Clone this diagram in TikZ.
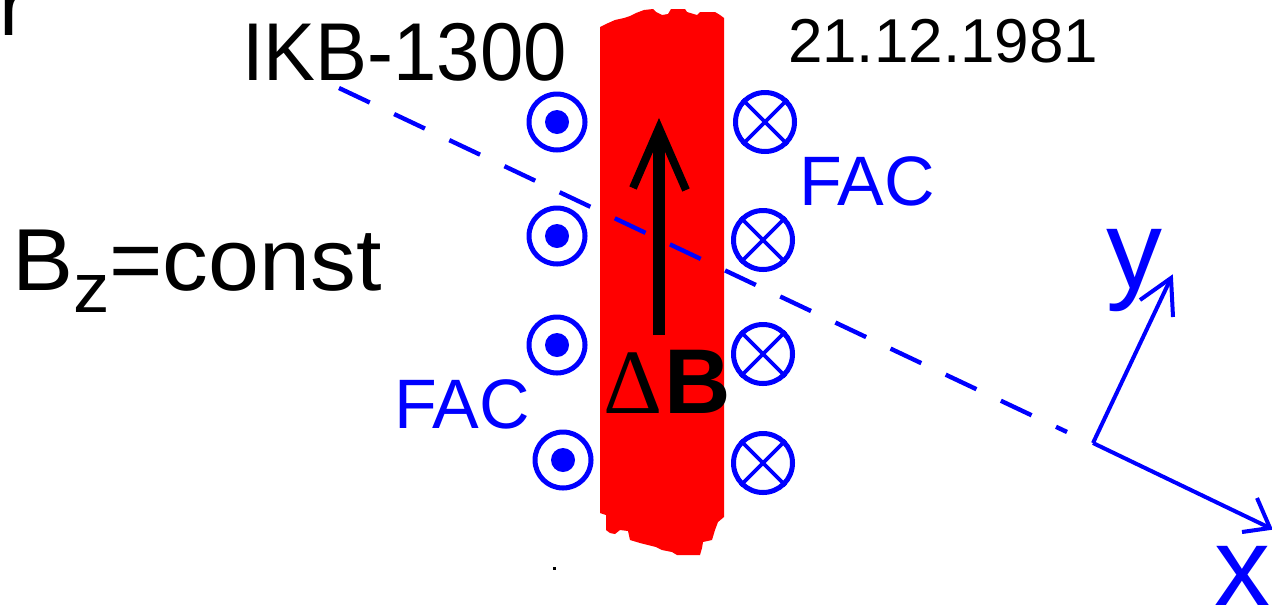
\documentclass[tikz,border=0pt]{standalone}
\usepackage{fontspec}
\setmainfont{Liberation Sans}
\newfontfamily\serifD{Liberation Serif}
\usetikzlibrary{calc}
\definecolor{pureblue}{RGB}{0,0,255}
\definecolor{purered}{RGB}{255,0,0}
\tikzset{
  lbl/.style={inner sep=0pt, outer sep=0pt, anchor=base west},
  bluetxt/.style={lbl, text=pureblue},
  dotcirc/.style={draw=pureblue, line width=2.5pt, circle, minimum size=28pt, inner sep=0pt},
  crosscirc/.style={draw=pureblue, line width=2.5pt, circle, minimum size=29.5pt, inner sep=0pt},
  crossline/.style={draw=pureblue, line width=1.8pt},
  axisline/.style={draw=pureblue, line width=2pt, line join=miter},
  fieldline/.style={draw=pureblue, line width=2.2pt, dash pattern=on 17pt off 13.5pt},
}
\begin{document}
\begin{tikzpicture}[x=0.5pt,y=-0.5pt]
\useasboundingbox (0,0) rectangle (1272,606);
% red band
\fill[purered] (600,27) -- (606,24) -- (615,20) -- (624,18) -- (630,16) -- (636,13) -- (644,10) -- (653,9) -- (656,12) -- (662,15) -- (668,14) -- (671,9) -- (685,9) -- (687,12) -- (697,15) -- (700,12) -- (715,12) -- (720,15) -- (724,18)
  -- (724,517) -- (718,522) -- (715,530) -- (712,540) -- (703,542) -- (702,548) -- (700,555) -- (677,555) -- (672,552) -- (662,550) -- (656,547) -- (640,543) -- (630,540) -- (628,531) -- (620,530) -- (615,534) -- (610,533) -- (606,530) -- (606,515) -- (600,513) -- cycle;
% text
\node[lbl] (rfrag) at (-1,35) {\fontsize{42}{42}\selectfont r};
\node[lbl] (ikb) at (242,80) {\scalebox{0.95}[1]{\fontsize{41}{41}\selectfont IKB-1300}};
\node[lbl] (date) at (788,62) {\fontsize{31}{31}\selectfont 21.12.1981};
\node[lbl] (bz) at (12,290) {\scalebox{1.04}[1]{\fontsize{44}{44}\selectfont B\raisebox{-11pt}{\fontsize{35}{35}\selectfont z}=const}};
\node[bluetxt] (facL) at (394,428) {\fontsize{35}{35}\selectfont FAC};
\node[bluetxt] (facR) at (799,205) {\fontsize{35}{35}\selectfont FAC};
\node[lbl] (dB) at (603,413) {\fontsize{46}{46}\selectfont{\serifD Δ}\hspace{1pt}\textbf{B}};
% dashed line
\coordinate (D1) at (339,88);
\coordinate (D2) at (1067,432);
\draw[fieldline] (D1) -- (D2);
% black arrow
\coordinate (Ab) at (659,335);
\coordinate (At) at (659,128);
\draw[line width=6pt] (Ab) -- ($(At)+(0,8)$);
\draw[line width=4pt, line join=miter, miter limit=10] (633,188) -- (At) -- (686,190);
% left circles with dots
\foreach \n/\cx/\cy in {1/557/122, 2/557/236, 3/557/345, 4/563/460} {
  \node[dotcirc] (L\n) at (\cx,\cy) {};
  \fill[pureblue] (L\n.center) circle (6pt);
}
% right circles with crosses
\foreach \n/\cx/\cy in {1/765/122, 2/763/240, 3/763/354, 4/763/463} {
  \node[crosscirc] (R\n) at (\cx,\cy) {};
  \draw[crossline] (R\n.north west) -- (R\n.south east);
  \draw[crossline] (R\n.north east) -- (R\n.south west);
}
% axes
\coordinate (O) at (1093,443);
\coordinate (Yt) at (1171,278);
\coordinate (Xt) at (1270,528);
\draw[axisline] (O) -- (Yt);
\draw[axisline] ($(Yt)+(-31,22)$) -- (Yt) -- ($(Yt)+(2,39)$);
\draw[axisline] (O) -- (Xt);
\draw[axisline] ($(Xt)+(-13,-30)$) -- (Xt) -- ($(Xt)+(-28,4)$);
\node[bluetxt] (ylab) at (1106,288) {\fontsize{56}{56}\selectfont y};
\node[bluetxt] (xlab) at (1214,605) {\fontsize{56}{56}\selectfont x};
% stray dot
\fill (553,567) rectangle (556,570);
\end{tikzpicture}
\end{document}
